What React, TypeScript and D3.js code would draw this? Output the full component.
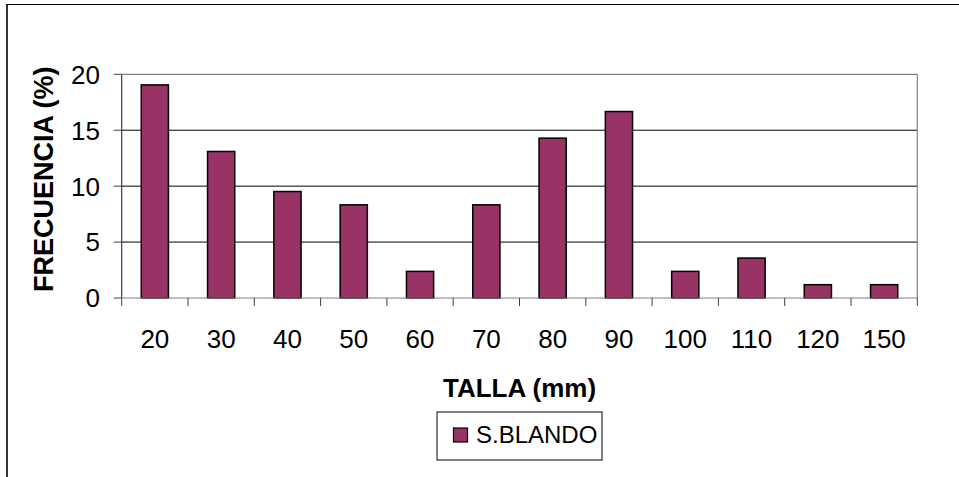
import React from "react";
import * as d3 from "d3";

// Size classes (mm) and frequency (%) of S.BLANDO
const categories: string[] = ["20", "30", "40", "50", "60", "70", "80", "90", "100", "110", "120", "150"];
const frequency: number[] = [19.05, 13.1, 9.52, 8.33, 2.38, 8.33, 14.29, 16.67, 2.38, 3.57, 1.19, 1.19];
const yTicks: number[] = [0, 5, 10, 15, 20];
const seriesName = "S.BLANDO";

const W = 959;
const H = 477;
const plot = { left: 121.7, right: 917.3, top: 74.3, bottom: 298 };
const barColor = "#993366";
const font = "Arial, 'Liberation Sans', sans-serif";

export default function App() {
  const x = d3
    .scaleBand<string>()
    .domain(categories)
    .range([plot.left, plot.right])
    .paddingInner(0.59)
    .paddingOuter(0.295);
  const band = d3.scaleBand<string>().domain(categories).range([plot.left, plot.right]);
  const y = d3.scaleLinear().domain([0, 20]).range([plot.bottom, plot.top]);

  const boundaries = categories.map((c) => band(c) as number).concat([plot.right]);

  return (
    <svg
      width={W}
      height={H}
      style={{ position: "absolute", left: 0, top: 0, background: "#fff" }}
      fontFamily={font}
    >
      <rect x={0} y={0} width={W} height={H} fill="#fff" />
      {/* outer chart frame */}
      <line x1={7} x2={W} y1={4.5} y2={4.5} stroke="#000" strokeWidth={1.2} />
      <line x1={7} x2={7} y1={4} y2={H} stroke="#000" strokeWidth={1.6} />

      {/* gridlines */}
      {yTicks
        .filter((t) => t > 0 && t < 20)
        .map((t) => (
          <line key={"g" + t} x1={plot.left} x2={plot.right} y1={y(t)} y2={y(t)} stroke="#000" strokeWidth={1} />
        ))}

      {/* plot area border */}
      <line x1={plot.left} x2={plot.right} y1={plot.top} y2={plot.top} stroke="#808080" strokeWidth={1.2} />
      <line x1={plot.right} x2={plot.right} y1={plot.top} y2={plot.bottom} stroke="#808080" strokeWidth={1.2} />

      {/* bars */}
      {categories.map((c, i) => (
        <rect
          key={c}
          x={x(c)}
          y={y(frequency[i])}
          width={x.bandwidth()}
          height={plot.bottom - y(frequency[i])}
          fill={barColor}
          stroke="#000"
          strokeWidth={1.5}
        />
      ))}

      {/* y axis */}
      <line x1={plot.left} x2={plot.left} y1={plot.top} y2={plot.bottom} stroke="#404040" strokeWidth={1.2} />
      {yTicks.map((t) => (
        <g key={"y" + t}>
          <line x1={plot.left - 8} x2={plot.left} y1={y(t)} y2={y(t)} stroke="#404040" strokeWidth={1} />
          <text x={100} y={y(t)} dy="0.36em" textAnchor="end" fontSize={26} fill="#000">
            {t}
          </text>
        </g>
      ))}

      {/* x axis */}
      <line x1={plot.left} x2={plot.right} y1={plot.bottom} y2={plot.bottom} stroke="#808080" strokeWidth={1.2} />
      {boundaries.map((b, i) => (
        <line key={"t" + i} x1={b} x2={b} y1={plot.bottom} y2={plot.bottom + 8} stroke="#404040" strokeWidth={1} />
      ))}
      {categories.map((c) => (
        <text
          key={"l" + c}
          x={(band(c) as number) + band.bandwidth() / 2}
          y={348}
          textAnchor="middle"
          fontSize={26}
          fill="#000"
        >
          {c}
        </text>
      ))}

      {/* axis titles */}
      <text x={(plot.left + plot.right) / 2} y={397} textAnchor="middle" fontSize={26} fontWeight="bold">
        TALLA (mm)
      </text>
      <text
        transform={`translate(53, ${(plot.top + plot.bottom) / 2 - 7}) rotate(-90)`}
        textAnchor="middle"
        fontSize={27}
        fontWeight="bold"
      >
        FRECUENCIA (%)
      </text>

      {/* legend */}
      <rect x={437} y={412} width={165} height={48} fill="#fff" stroke="#000" strokeWidth={1} />
      <rect x={453.5} y={428} width={14} height={14} fill={barColor} stroke="#000" strokeWidth={1.2} />
      <text x={476} y={443} fontSize={24} fill="#000">
        {seriesName}
      </text>
    </svg>
  );
}
